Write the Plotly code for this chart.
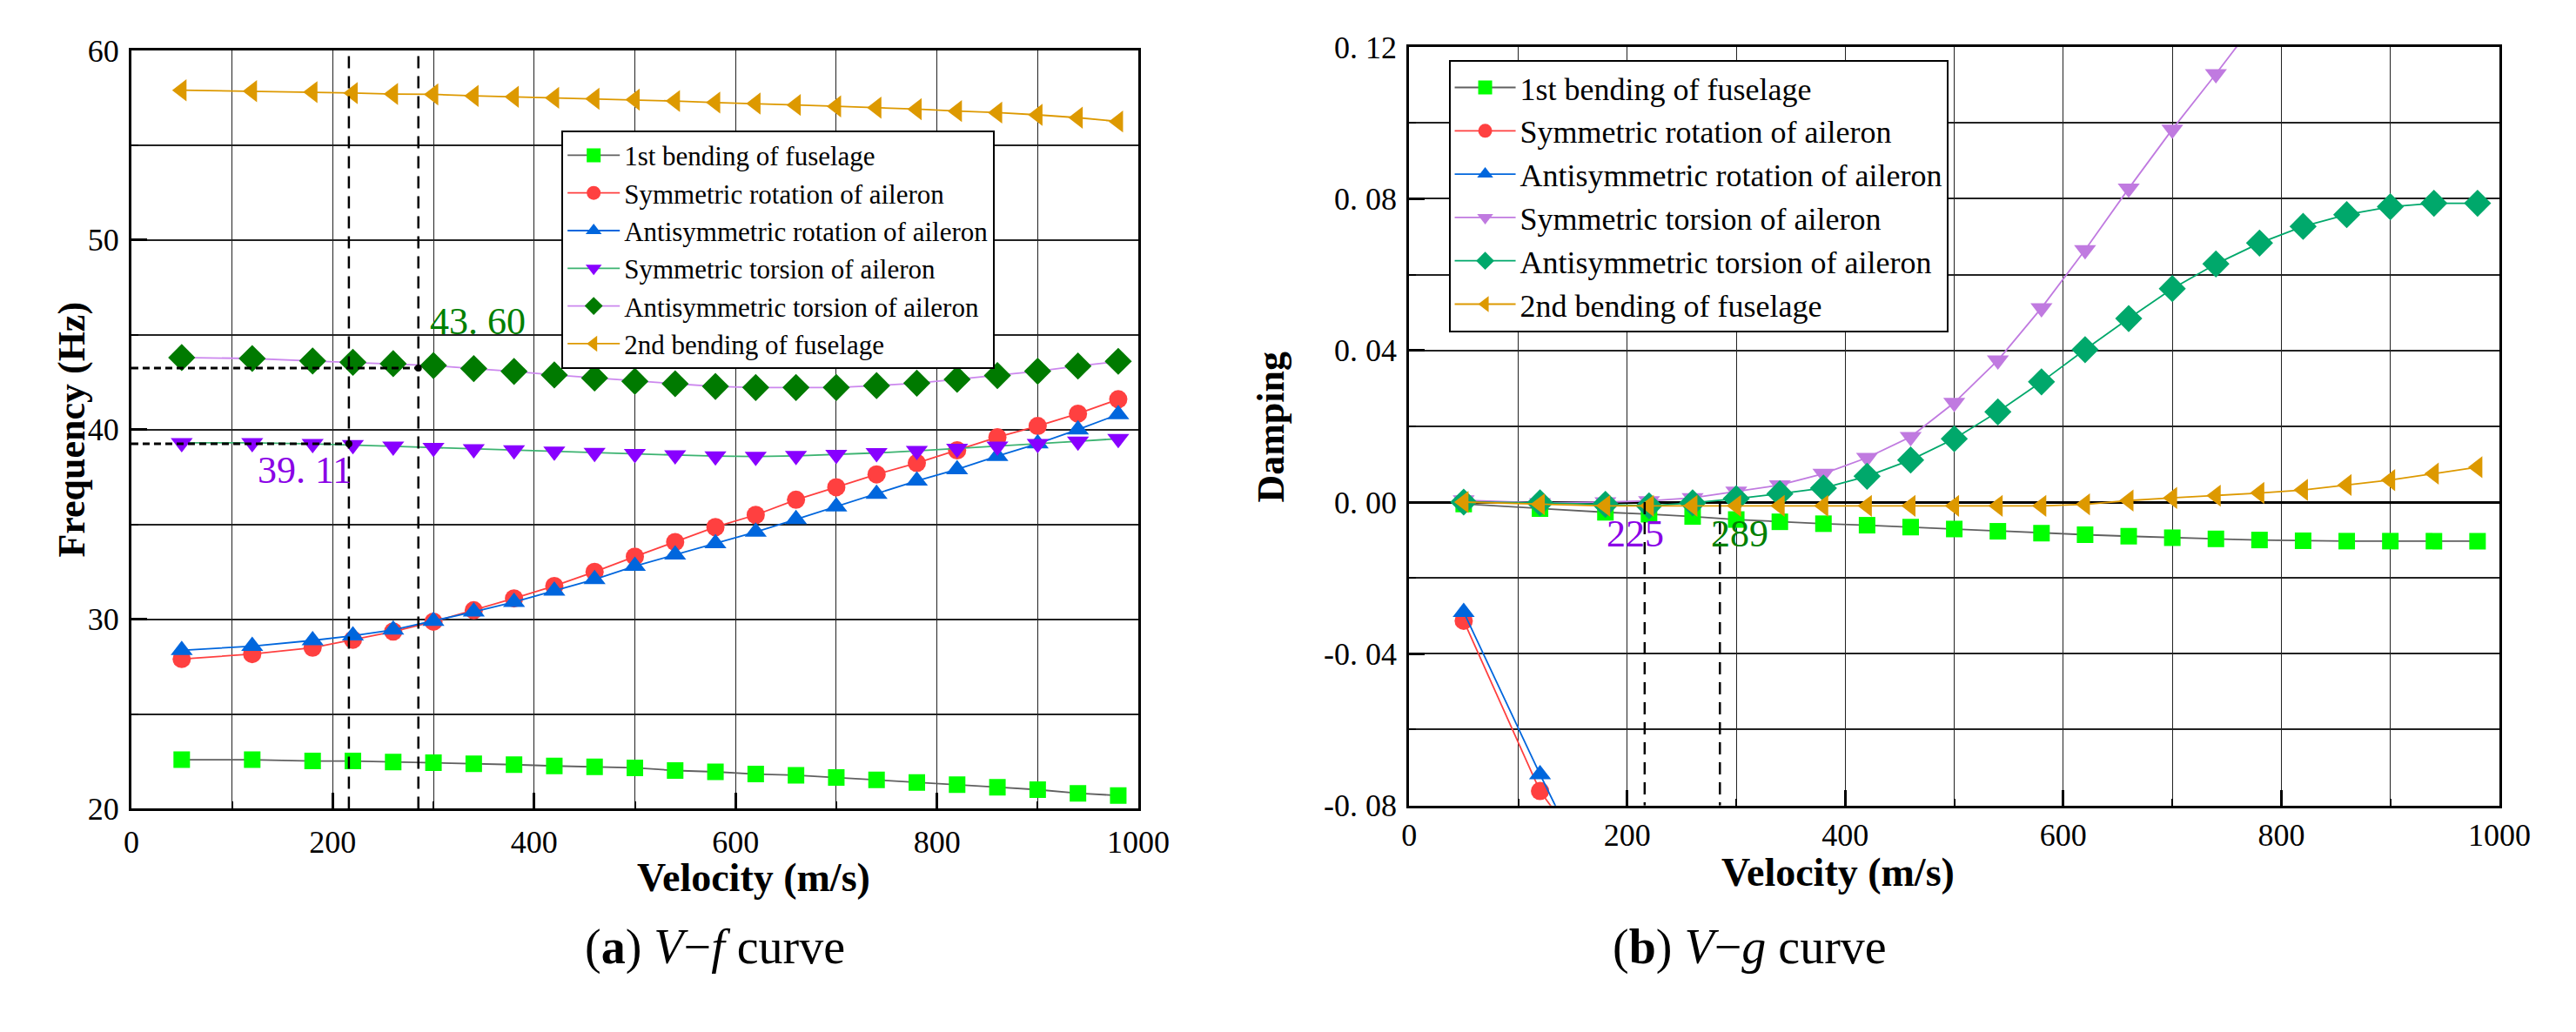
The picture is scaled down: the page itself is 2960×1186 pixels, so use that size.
import plotly.graph_objects as go

# velocity stations (m/s)
velocity = [50, 120, 180, 220, 260, 300, 340, 380, 420, 460, 500, 540,
            580, 620, 660, 700, 740, 780, 820, 860, 900, 940, 980]

mode_names = ["1st bending of fuselage", "Symmetric rotation of aileron",
              "Antisymmetric rotation of aileron", "Symmetric torsion of aileron",
              "Antisymmetric torsion of aileron", "2nd bending of fuselage"]

# (a) V-f, frequency in Hz
f_bend1 = [22.59, 22.59, 22.52, 22.52, 22.47, 22.43, 22.38, 22.33, 22.26, 22.21, 22.16, 22.02,
           21.95, 21.83, 21.77, 21.65, 21.53, 21.39, 21.27, 21.14, 21.01, 20.82, 20.70]
f_sym_rot = [27.9, 28.16, 28.5, 28.92, 29.35, 29.87, 30.47, 31.1, 31.75, 32.5, 33.3, 34.07,
             34.86, 35.5, 36.3, 36.96, 37.64, 38.24, 38.91, 39.6, 40.19, 40.84, 41.6]
f_anti_rot = [28.36, 28.58, 28.88, 29.13, 29.44, 29.9, 30.39, 30.9, 31.5, 32.1, 32.8, 33.4,
              34.0, 34.6, 35.27, 35.94, 36.6, 37.3, 37.9, 38.6, 39.26, 40.0, 40.8]
f_sym_tor = [39.3, 39.3, 39.25, 39.2, 39.12, 39.05, 38.98, 38.92, 38.85, 38.78, 38.72, 38.66,
             38.6, 38.58, 38.62, 38.68, 38.77, 38.88, 39.0, 39.12, 39.25, 39.38, 39.52]
f_anti_tor = [43.8, 43.75, 43.62, 43.55, 43.48, 43.38, 43.22, 43.07, 42.88, 42.72, 42.55, 42.42,
              42.28, 42.22, 42.22, 42.22, 42.32, 42.45, 42.65, 42.85, 43.08, 43.35, 43.6]
f_bend2 = [57.9, 57.85, 57.8, 57.75, 57.7, 57.68, 57.6, 57.55, 57.5, 57.45, 57.4, 57.33,
           57.25, 57.2, 57.12, 57.05, 56.98, 56.9, 56.8, 56.72, 56.6, 56.45, 56.25]

# (b) V-g, damping
g_bend1 = [-0.0005, -0.0017, -0.0027, -0.0032, -0.0038, -0.0046, -0.0052, -0.0057, -0.0061,
           -0.0066, -0.0071, -0.0077, -0.0082, -0.0086, -0.0090, -0.0094, -0.0097, -0.0100,
           -0.0102, -0.0103, -0.0103, -0.0103, -0.0103]
g_rot_vel = [50, 120, 180]
g_sym_rot = [-0.0313, -0.0762, -0.100]
g_anti_rot = [-0.0290, -0.0718, -0.107]
g_tor_vel = velocity[:18]
g_sym_tor = [0.0005, -0.0002, 0.0, 0.0003, 0.0011, 0.0028, 0.0045, 0.0075, 0.0117,
             0.0172, 0.0262, 0.0374, 0.0512, 0.0665, 0.0827, 0.0983, 0.1129, 0.128]
g_anti_tor = [0.0, -0.0002, -0.0006, -0.001, -0.0002, 0.0009, 0.0022, 0.0037, 0.0068,
              0.0111, 0.0167, 0.0238, 0.0317, 0.0402, 0.0484, 0.0563, 0.0628, 0.0683,
              0.0727, 0.0758, 0.0779, 0.0788, 0.0788]
g_bend2 = [0.0, -0.0006, -0.001, -0.001, -0.001, -0.001, -0.001, -0.001, -0.001, -0.001,
           -0.001, -0.001, -0.001, -0.0006, 0.0004, 0.0011, 0.0017, 0.0024, 0.0032, 0.0045,
           0.0058, 0.0075, 0.0092]

# flutter marks
v_flutter = [216, 285]
f_flutter = [39.25, 43.25]
flutter_freq_labels = ["39. 11", "43. 60"]
flutter_vel_labels = ["225", "289"]

y_ticks_g = [-0.08, -0.04, 0.0, 0.04, 0.08, 0.12]
y_ticktext_g = ["-0. 08", "-0. 04", "0. 00", "0. 04", "0. 08", "0. 12"]

FONT = "Liberation Serif"
GREEN = "#00FF00"
RED = "#FF4040"
BLUE = "#0066DD"
ORANGE = "#DD9900"
PURPLE_TXT = "#8A00E6"
GREEN_TXT = "#008000"

fig = go.Figure()


def add_mode(x, y, name, line_col, mk_col, symbol, size, xa, ya, legend):
    fig.add_trace(go.Scatter(
        x=x, y=y, name=name, mode="lines+markers",
        line=dict(color=line_col, width=1.8),
        marker=dict(color=mk_col, symbol=symbol, size=size, line=dict(width=0)),
        xaxis=xa, yaxis=ya, legend=legend
    ))


# left panel
add_mode(velocity, f_bend1, mode_names[0], "#606060", GREEN, "square", 19, "x", "y", "legend")
add_mode(velocity, f_sym_rot, mode_names[1], RED, RED, "circle", 21, "x", "y", "legend")
add_mode(velocity, f_anti_rot, mode_names[2], BLUE, BLUE, "triangle-up", 22, "x", "y", "legend")
add_mode(velocity, f_sym_tor, mode_names[3], "#3CB371", "#8800FF", "triangle-down", 22, "x", "y", "legend")
add_mode(velocity, f_anti_tor, mode_names[4], "#CC88EE", "#007A00", "diamond", 24, "x", "y", "legend")
add_mode(velocity, f_bend2, mode_names[5], ORANGE, ORANGE, "triangle-left", 22, "x", "y", "legend")

# right panel
add_mode(velocity, g_bend1, mode_names[0], "#606060", GREEN, "square", 19, "x2", "y2", "legend2")
add_mode(g_rot_vel, g_sym_rot, mode_names[1], RED, RED, "circle", 21, "x2", "y2", "legend2")
add_mode(g_rot_vel, g_anti_rot, mode_names[2], BLUE, BLUE, "triangle-up", 22, "x2", "y2", "legend2")
add_mode(g_tor_vel, g_sym_tor, mode_names[3], "#C07AE0", "#C07AE0", "triangle-down", 22, "x2", "y2", "legend2")
add_mode(velocity, g_anti_tor, mode_names[4], "#00A86B", "#00A86B", "diamond", 24, "x2", "y2", "legend2")
add_mode(velocity, g_bend2, mode_names[5], ORANGE, ORANGE, "triangle-left", 22, "x2", "y2", "legend2")

# dashed guide lines, left panel
for v in v_flutter:
    fig.add_trace(go.Scatter(x=[v, v], y=[20, 60], mode="lines", showlegend=False,
                             line=dict(color="black", width=2.5, dash="14px,9px"),
                             xaxis="x", yaxis="y", hoverinfo="skip"))
for v, f in zip(v_flutter, f_flutter):
    fig.add_trace(go.Scatter(x=[0, v], y=[f, f], mode="lines", showlegend=False,
                             line=dict(color="black", width=3, dash="8px,5px"),
                             xaxis="x", yaxis="y", hoverinfo="skip"))
fig.add_trace(go.Scatter(x=v_flutter, y=f_flutter, mode="markers", showlegend=False,
                         marker=dict(color="black", size=8), xaxis="x", yaxis="y"))

# dashed guide lines, right panel
for v in v_flutter:
    fig.add_trace(go.Scatter(x=[v, v], y=[0, -0.08], mode="lines", showlegend=False,
                             line=dict(color="black", width=2.5, dash="14px,9px"),
                             xaxis="x2", yaxis="y2", hoverinfo="skip"))

axis_common = dict(
    showline=True, mirror=True, linecolor="black", linewidth=3,
    ticks="inside", ticklen=18, tickwidth=3, tickcolor="black",
    showgrid=True, gridcolor="#222222", zeroline=False,
    tickfont=dict(family=FONT, size=36, color="black"),
)

fig.update_layout(
    width=2960, height=1186, autosize=False,
    margin=dict(l=0, r=0, t=0, b=0),
    paper_bgcolor="white", plot_bgcolor="white",
    font=dict(family=FONT, color="black"),
    xaxis=dict(axis_common, domain=[0.04595, 0.44291], range=[0, 1000], dtick=200,
               gridwidth=1, anchor="y", ticklabelstandoff=4,
               minor=dict(dtick=100, showgrid=True, gridcolor="#222222", gridwidth=1,
                          ticks="inside", ticklen=8, tickwidth=2)),
    yaxis=dict(axis_common, domain=[0.21248, 0.97302], range=[20, 60], dtick=10,
               gridwidth=2, anchor="x", ticklabelstandoff=4,
               minor=dict(dtick=5, showgrid=True, gridcolor="#222222", gridwidth=2,
                          ticks="inside", ticklen=8, tickwidth=2)),
    xaxis2=dict(axis_common, domain=[0.54966, 0.97939], range=[0, 1000], dtick=200,
                gridwidth=1, anchor="y2", ticklabelstandoff=0,
                minor=dict(dtick=100, showgrid=True, gridcolor="#222222", gridwidth=1,
                           ticks="inside", ticklen=8, tickwidth=2)),
    yaxis2=dict(axis_common, domain=[0.21585, 0.97639], range=[-0.08, 0.12],
                tickmode="array", tickvals=y_ticks_g, ticktext=y_ticktext_g,
                gridwidth=2, anchor="x2", zeroline=True, zerolinecolor="black",
                zerolinewidth=3, ticklabelstandoff=4,
                minor=dict(dtick=0.02, showgrid=True, gridcolor="#222222", gridwidth=2,
                           ticks="inside", ticklen=8, tickwidth=2)),
    legend=dict(x=0.2155, y=0.8929, xanchor="left", yanchor="top",
                bgcolor="white", bordercolor="black", borderwidth=2,
                font=dict(family=FONT, size=31, color="black"), itemwidth=60),
    legend2=dict(x=0.5652, y=0.9637, xanchor="left", yanchor="top",
                 bgcolor="white", bordercolor="black", borderwidth=2,
                 font=dict(family=FONT, size=36, color="black"), itemwidth=70),
)

# value labels at flutter points
fig.add_annotation(x=v_flutter[1] + 10, y=45.7, xref="x", yref="y", text=flutter_freq_labels[1],
                   showarrow=False, xanchor="left",
                   font=dict(family=FONT, size=44, color=GREEN_TXT))
fig.add_annotation(x=v_flutter[0] + 4, y=37.85, xref="x", yref="y", text=flutter_freq_labels[0],
                   showarrow=False, xanchor="right",
                   font=dict(family=FONT, size=44, color=PURPLE_TXT))
fig.add_annotation(x=v_flutter[0] - 9, y=-0.0084, xref="x2", yref="y2", text=flutter_vel_labels[0],
                   showarrow=False, font=dict(family=FONT, size=44, color=PURPLE_TXT))
fig.add_annotation(x=v_flutter[1] + 18, y=-0.0084, xref="x2", yref="y2", text=flutter_vel_labels[1],
                   showarrow=False, font=dict(family=FONT, size=44, color=GREEN_TXT))

# axis titles and captions
title_font = dict(family=FONT, size=46, color="black")
fig.add_annotation(x=0.2447, y=0.1197, xref="paper", yref="paper", text="<b>Velocity (m/s)</b>",
                   showarrow=False, font=title_font)
fig.add_annotation(x=0.7655, y=0.1248, xref="paper", yref="paper", text="<b>Velocity (m/s)</b>",
                   showarrow=False, font=title_font)
fig.add_annotation(x=0.0135, y=0.5927, xref="paper", yref="paper", text="<b>Frequency (Hz)</b>",
                   showarrow=False, textangle=-90, font=dict(family=FONT, size=44, color="black"))
fig.add_annotation(x=0.4953, y=0.5953, xref="paper", yref="paper", text="<b>Damping</b>",
                   showarrow=False, textangle=-90, font=dict(family=FONT, size=44, color="black"))
cap_font = dict(family=FONT, size=56, color="black")
fig.add_annotation(x=0.224, y=0.0447, xref="paper", yref="paper",
                   text="(<b>a</b>) <i>V</i>\u2212<i>f</i> curve", showarrow=False, font=cap_font)
fig.add_annotation(x=0.7385, y=0.0447, xref="paper", yref="paper",
                   text="(<b>b</b>) <i>V</i>\u2212<i>g</i> curve", showarrow=False, font=cap_font)

fig.write_html("out.html")
